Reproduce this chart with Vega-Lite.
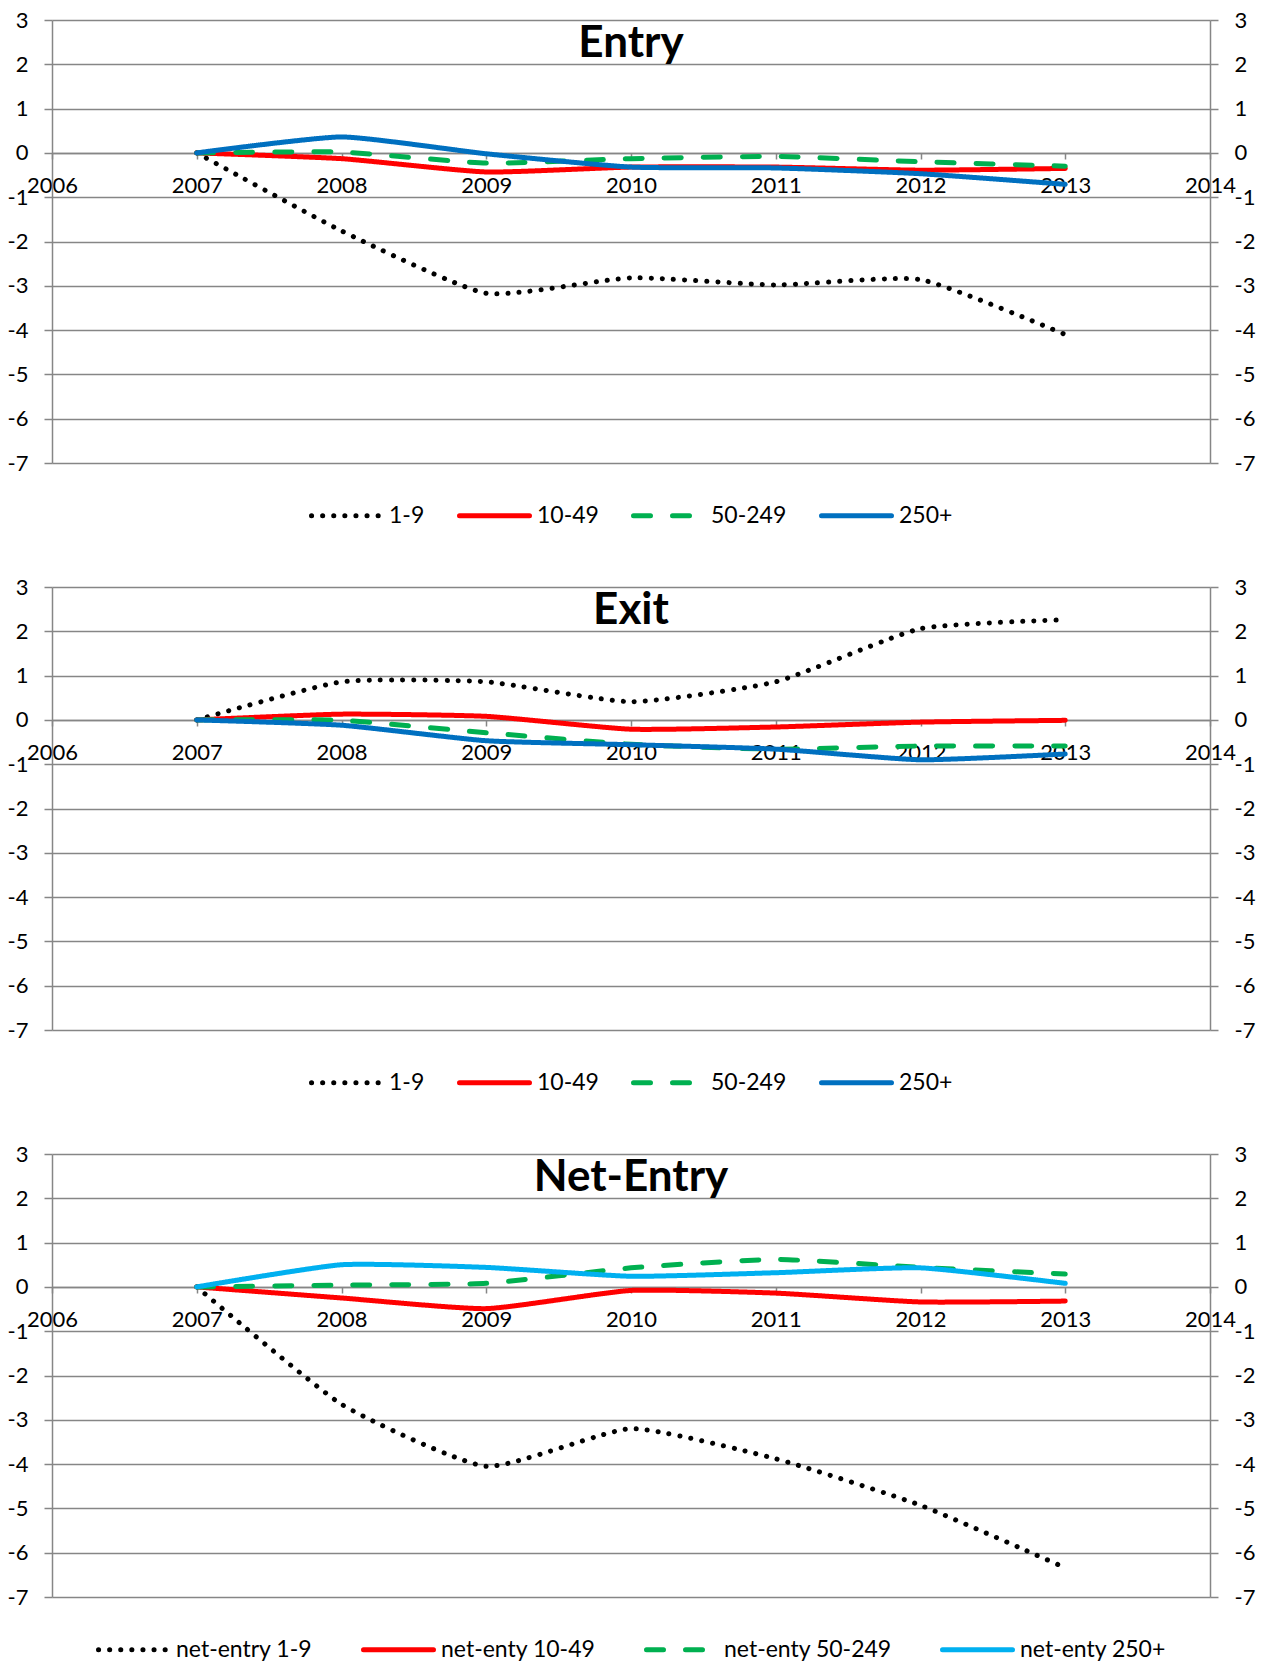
{
  "$schema": "https://vega.github.io/schema/vega-lite/v6.json",
  "padding": {"left": 7, "top": 9, "right": 5, "bottom": 5},
  "background": "white",
  "config": {
    "font": "Lato",
    "view": {"stroke": null},
    "axis": {"labelFont": "Lato", "labelFontSize": 22, "labelColor": "#000000", "domainColor": "#868686", "domainWidth": 1.5, "tickColor": "#868686", "tickWidth": 1.5, "gridColor": "#868686", "gridWidth": 1.5, "labelOverlap": false, "labelFlush": false},
    "title": {"font": "Lato", "fontSize": 44, "fontWeight": "bold", "color": "#000000", "anchor": "middle", "frame": "group", "offset": -57},
    "legend": {"labelFont": "Lato", "labelFontSize": 23, "labelColor": "#000000", "labelLimit": 400, "layout": {"bottom": {"anchor": "middle"}}}
  },
  "data": {"values": [
    {"panel": "Entry", "series": "1-9", "year": 2007, "value": 0},
    {"panel": "Entry", "series": "1-9", "year": 2008, "value": -1.76},
    {"panel": "Entry", "series": "1-9", "year": 2009, "value": -3.17},
    {"panel": "Entry", "series": "1-9", "year": 2010, "value": -2.82},
    {"panel": "Entry", "series": "1-9", "year": 2011, "value": -2.98},
    {"panel": "Entry", "series": "1-9", "year": 2012, "value": -2.86},
    {"panel": "Entry", "series": "1-9", "year": 2013, "value": -4.1},
    {"panel": "Entry", "series": "10-49", "year": 2007, "value": 0},
    {"panel": "Entry", "series": "10-49", "year": 2008, "value": -0.13},
    {"panel": "Entry", "series": "10-49", "year": 2009, "value": -0.43},
    {"panel": "Entry", "series": "10-49", "year": 2010, "value": -0.32},
    {"panel": "Entry", "series": "10-49", "year": 2011, "value": -0.32},
    {"panel": "Entry", "series": "10-49", "year": 2012, "value": -0.39},
    {"panel": "Entry", "series": "10-49", "year": 2013, "value": -0.35},
    {"panel": "Entry", "series": "50-249", "year": 2007, "value": 0},
    {"panel": "Entry", "series": "50-249", "year": 2008, "value": 0.02},
    {"panel": "Entry", "series": "50-249", "year": 2009, "value": -0.23},
    {"panel": "Entry", "series": "50-249", "year": 2010, "value": -0.13},
    {"panel": "Entry", "series": "50-249", "year": 2011, "value": -0.08},
    {"panel": "Entry", "series": "50-249", "year": 2012, "value": -0.2},
    {"panel": "Entry", "series": "50-249", "year": 2013, "value": -0.3},
    {"panel": "Entry", "series": "250+", "year": 2007, "value": 0},
    {"panel": "Entry", "series": "250+", "year": 2008, "value": 0.36},
    {"panel": "Entry", "series": "250+", "year": 2009, "value": -0.02},
    {"panel": "Entry", "series": "250+", "year": 2010, "value": -0.32},
    {"panel": "Entry", "series": "250+", "year": 2011, "value": -0.34},
    {"panel": "Entry", "series": "250+", "year": 2012, "value": -0.47},
    {"panel": "Entry", "series": "250+", "year": 2013, "value": -0.71},
    {"panel": "Exit", "series": "1-9", "year": 2007, "value": 0},
    {"panel": "Exit", "series": "1-9", "year": 2008, "value": 0.86},
    {"panel": "Exit", "series": "1-9", "year": 2009, "value": 0.86},
    {"panel": "Exit", "series": "1-9", "year": 2010, "value": 0.41},
    {"panel": "Exit", "series": "1-9", "year": 2011, "value": 0.86},
    {"panel": "Exit", "series": "1-9", "year": 2012, "value": 2.06},
    {"panel": "Exit", "series": "1-9", "year": 2013, "value": 2.26},
    {"panel": "Exit", "series": "10-49", "year": 2007, "value": 0},
    {"panel": "Exit", "series": "10-49", "year": 2008, "value": 0.13},
    {"panel": "Exit", "series": "10-49", "year": 2009, "value": 0.08},
    {"panel": "Exit", "series": "10-49", "year": 2010, "value": -0.21},
    {"panel": "Exit", "series": "10-49", "year": 2011, "value": -0.16},
    {"panel": "Exit", "series": "10-49", "year": 2012, "value": -0.05},
    {"panel": "Exit", "series": "10-49", "year": 2013, "value": -0.01},
    {"panel": "Exit", "series": "50-249", "year": 2007, "value": 0},
    {"panel": "Exit", "series": "50-249", "year": 2008, "value": -0.01},
    {"panel": "Exit", "series": "50-249", "year": 2009, "value": -0.29},
    {"panel": "Exit", "series": "50-249", "year": 2010, "value": -0.55},
    {"panel": "Exit", "series": "50-249", "year": 2011, "value": -0.66},
    {"panel": "Exit", "series": "50-249", "year": 2012, "value": -0.59},
    {"panel": "Exit", "series": "50-249", "year": 2013, "value": -0.59},
    {"panel": "Exit", "series": "250+", "year": 2007, "value": 0},
    {"panel": "Exit", "series": "250+", "year": 2008, "value": -0.12},
    {"panel": "Exit", "series": "250+", "year": 2009, "value": -0.47},
    {"panel": "Exit", "series": "250+", "year": 2010, "value": -0.56},
    {"panel": "Exit", "series": "250+", "year": 2011, "value": -0.66},
    {"panel": "Exit", "series": "250+", "year": 2012, "value": -0.9},
    {"panel": "Exit", "series": "250+", "year": 2013, "value": -0.77},
    {"panel": "Net", "series": "net-entry 1-9", "year": 2007, "value": 0},
    {"panel": "Net", "series": "net-entry 1-9", "year": 2008, "value": -2.65},
    {"panel": "Net", "series": "net-entry 1-9", "year": 2009, "value": -4.05},
    {"panel": "Net", "series": "net-entry 1-9", "year": 2010, "value": -3.2},
    {"panel": "Net", "series": "net-entry 1-9", "year": 2011, "value": -3.88},
    {"panel": "Net", "series": "net-entry 1-9", "year": 2012, "value": -4.93},
    {"panel": "Net", "series": "net-entry 1-9", "year": 2013, "value": -6.34},
    {"panel": "Net", "series": "net-enty 10-49", "year": 2007, "value": 0},
    {"panel": "Net", "series": "net-enty 10-49", "year": 2008, "value": -0.25},
    {"panel": "Net", "series": "net-enty 10-49", "year": 2009, "value": -0.49},
    {"panel": "Net", "series": "net-enty 10-49", "year": 2010, "value": -0.08},
    {"panel": "Net", "series": "net-enty 10-49", "year": 2011, "value": -0.14},
    {"panel": "Net", "series": "net-enty 10-49", "year": 2012, "value": -0.34},
    {"panel": "Net", "series": "net-enty 10-49", "year": 2013, "value": -0.32},
    {"panel": "Net", "series": "net-enty 50-249", "year": 2007, "value": 0},
    {"panel": "Net", "series": "net-enty 50-249", "year": 2008, "value": 0.04},
    {"panel": "Net", "series": "net-enty 50-249", "year": 2009, "value": 0.08},
    {"panel": "Net", "series": "net-enty 50-249", "year": 2010, "value": 0.43},
    {"panel": "Net", "series": "net-enty 50-249", "year": 2011, "value": 0.62},
    {"panel": "Net", "series": "net-enty 50-249", "year": 2012, "value": 0.44},
    {"panel": "Net", "series": "net-enty 50-249", "year": 2013, "value": 0.29},
    {"panel": "Net", "series": "net-enty 250+", "year": 2007, "value": 0},
    {"panel": "Net", "series": "net-enty 250+", "year": 2008, "value": 0.5},
    {"panel": "Net", "series": "net-enty 250+", "year": 2009, "value": 0.44},
    {"panel": "Net", "series": "net-enty 250+", "year": 2010, "value": 0.24},
    {"panel": "Net", "series": "net-enty 250+", "year": 2011, "value": 0.32},
    {"panel": "Net", "series": "net-enty 250+", "year": 2012, "value": 0.43},
    {"panel": "Net", "series": "net-enty 250+", "year": 2013, "value": 0.08}
  ]},
  "spacing": 48,
  "resolve": {"scale": {"color": "independent", "strokeDash": "independent", "x": "independent", "y": "independent"}},
  "vconcat": [
    {
      "title": {"text": "Entry"},
      "width": 1158, "height": 443,
      "transform": [{"filter": "datum.panel === 'Entry'"}],
      "encoding": {
        "x": {"field": "year", "type": "quantitative", "scale": {"domain": [2006, 2014], "nice": false, "zero": false},
              "axis": {"orient": "bottom", "title": null, "values": [2006, 2007, 2008, 2009, 2010, 2011, 2012, 2013, 2014], "format": "d", "grid": false, "offset": -310, "tickSize": 6, "labelPadding": 16}}
      },
      "layer": [
        {
          "mark": {"type": "line", "interpolate": "cardinal", "tension": 0.5, "strokeWidth": 5, "strokeCap": "round"},
          "encoding": {
            "y": {"field": "value", "type": "quantitative", "scale": {"domain": [-7, 3], "nice": false},
                  "axis": {"orient": "left", "title": null, "values": [-7, -6, -5, -4, -3, -2, -1, 0, 1, 2, 3], "labelExpr": "datum.value < 0 ? '-' + abs(datum.value) : '' + datum.value", "grid": true, "tickSize": 8, "labelPadding": 16}},
            "color": {"field": "series", "type": "nominal", "sort": null,
                      "scale": {"domain": ["1-9", "10-49", "50-249", "250+"], "range": ["#000000", "#FF0000", "#00B050", "#0070C0"]},
                      "legend": {"title": null, "orient": "bottom", "direction": "horizontal", "symbolType": "stroke", "symbolSize": 4900, "symbolStrokeWidth": 5, "columnPadding": 24, "labelOffset": 5, "offset": 15, "encode": {"symbols": {"update": {"strokeCap": {"value": "round"}}}}}},
            "strokeDash": {"field": "series", "type": "nominal", "sort": null,
                      "scale": {"domain": ["1-9", "10-49", "50-249", "250+"], "range": [[0.1, 11], [1, 0], [17, 22], [1, 0]]},
                      "legend": {"title": null, "orient": "bottom", "direction": "horizontal", "symbolType": "stroke", "symbolSize": 4900, "symbolStrokeWidth": 5, "columnPadding": 24, "labelOffset": 5, "offset": 15, "encode": {"symbols": {"update": {"strokeCap": {"value": "round"}}}}}}
          }
        },
        {
          "mark": {"type": "line", "opacity": 0},
          "encoding": {
            "y": {"field": "value", "type": "quantitative", "scale": {"domain": [-7, 3], "nice": false},
                  "axis": {"orient": "right", "title": null, "values": [-7, -6, -5, -4, -3, -2, -1, 0, 1, 2, 3], "labelExpr": "datum.value < 0 ? '-' + abs(datum.value) : '' + datum.value", "grid": false, "tickSize": 8, "labelPadding": 16}}
          }
        }
      ],
      "resolve": {"axis": {"y": "independent"}}
    },
    {
      "title": {"text": "Exit"},
      "width": 1158, "height": 443,
      "transform": [{"filter": "datum.panel === 'Exit'"}],
      "encoding": {
        "x": {"field": "year", "type": "quantitative", "scale": {"domain": [2006, 2014], "nice": false, "zero": false},
              "axis": {"orient": "bottom", "title": null, "values": [2006, 2007, 2008, 2009, 2010, 2011, 2012, 2013, 2014], "format": "d", "grid": false, "offset": -310, "tickSize": 6, "labelPadding": 16}}
      },
      "layer": [
        {
          "mark": {"type": "line", "interpolate": "cardinal", "tension": 0.5, "strokeWidth": 5, "strokeCap": "round"},
          "encoding": {
            "y": {"field": "value", "type": "quantitative", "scale": {"domain": [-7, 3], "nice": false},
                  "axis": {"orient": "left", "title": null, "values": [-7, -6, -5, -4, -3, -2, -1, 0, 1, 2, 3], "labelExpr": "datum.value < 0 ? '-' + abs(datum.value) : '' + datum.value", "grid": true, "tickSize": 8, "labelPadding": 16}},
            "color": {"field": "series", "type": "nominal", "sort": null,
                      "scale": {"domain": ["1-9", "10-49", "50-249", "250+"], "range": ["#000000", "#FF0000", "#00B050", "#0070C0"]},
                      "legend": {"title": null, "orient": "bottom", "direction": "horizontal", "symbolType": "stroke", "symbolSize": 4900, "symbolStrokeWidth": 5, "columnPadding": 24, "labelOffset": 5, "offset": 15, "encode": {"symbols": {"update": {"strokeCap": {"value": "round"}}}}}},
            "strokeDash": {"field": "series", "type": "nominal", "sort": null,
                      "scale": {"domain": ["1-9", "10-49", "50-249", "250+"], "range": [[0.1, 11], [1, 0], [17, 22], [1, 0]]},
                      "legend": {"title": null, "orient": "bottom", "direction": "horizontal", "symbolType": "stroke", "symbolSize": 4900, "symbolStrokeWidth": 5, "columnPadding": 24, "labelOffset": 5, "offset": 15, "encode": {"symbols": {"update": {"strokeCap": {"value": "round"}}}}}}
          }
        },
        {
          "mark": {"type": "line", "opacity": 0},
          "encoding": {
            "y": {"field": "value", "type": "quantitative", "scale": {"domain": [-7, 3], "nice": false},
                  "axis": {"orient": "right", "title": null, "values": [-7, -6, -5, -4, -3, -2, -1, 0, 1, 2, 3], "labelExpr": "datum.value < 0 ? '-' + abs(datum.value) : '' + datum.value", "grid": false, "tickSize": 8, "labelPadding": 16}}
          }
        }
      ],
      "resolve": {"axis": {"y": "independent"}}
    },
    {
      "title": {"text": "Net-Entry"},
      "width": 1158, "height": 443,
      "transform": [{"filter": "datum.panel === 'Net'"}],
      "encoding": {
        "x": {"field": "year", "type": "quantitative", "scale": {"domain": [2006, 2014], "nice": false, "zero": false},
              "axis": {"orient": "bottom", "title": null, "values": [2006, 2007, 2008, 2009, 2010, 2011, 2012, 2013, 2014], "format": "d", "grid": false, "offset": -310, "tickSize": 6, "labelPadding": 16}}
      },
      "layer": [
        {
          "mark": {"type": "line", "interpolate": "cardinal", "tension": 0.5, "strokeWidth": 5, "strokeCap": "round"},
          "encoding": {
            "y": {"field": "value", "type": "quantitative", "scale": {"domain": [-7, 3], "nice": false},
                  "axis": {"orient": "left", "title": null, "values": [-7, -6, -5, -4, -3, -2, -1, 0, 1, 2, 3], "labelExpr": "datum.value < 0 ? '-' + abs(datum.value) : '' + datum.value", "grid": true, "tickSize": 8, "labelPadding": 16}},
            "color": {"field": "series", "type": "nominal", "sort": null,
                      "scale": {"domain": ["net-entry 1-9", "net-enty 10-49", "net-enty 50-249", "net-enty 250+"], "range": ["#000000", "#FF0000", "#00B050", "#00B0F0"]},
                      "legend": {"title": null, "orient": "bottom", "direction": "horizontal", "symbolType": "stroke", "symbolSize": 4900, "symbolStrokeWidth": 5, "columnPadding": 40, "labelOffset": 5, "offset": 15, "encode": {"symbols": {"update": {"strokeCap": {"value": "round"}}}}}},
            "strokeDash": {"field": "series", "type": "nominal", "sort": null,
                      "scale": {"domain": ["net-entry 1-9", "net-enty 10-49", "net-enty 50-249", "net-enty 250+"], "range": [[0.1, 11], [1, 0], [17, 22], [1, 0]]},
                      "legend": {"title": null, "orient": "bottom", "direction": "horizontal", "symbolType": "stroke", "symbolSize": 4900, "symbolStrokeWidth": 5, "columnPadding": 40, "labelOffset": 5, "offset": 15, "encode": {"symbols": {"update": {"strokeCap": {"value": "round"}}}}}}
          }
        },
        {
          "mark": {"type": "line", "opacity": 0},
          "encoding": {
            "y": {"field": "value", "type": "quantitative", "scale": {"domain": [-7, 3], "nice": false},
                  "axis": {"orient": "right", "title": null, "values": [-7, -6, -5, -4, -3, -2, -1, 0, 1, 2, 3], "labelExpr": "datum.value < 0 ? '-' + abs(datum.value) : '' + datum.value", "grid": false, "tickSize": 8, "labelPadding": 16}}
          }
        }
      ],
      "resolve": {"axis": {"y": "independent"}}
    }
  ]
}
